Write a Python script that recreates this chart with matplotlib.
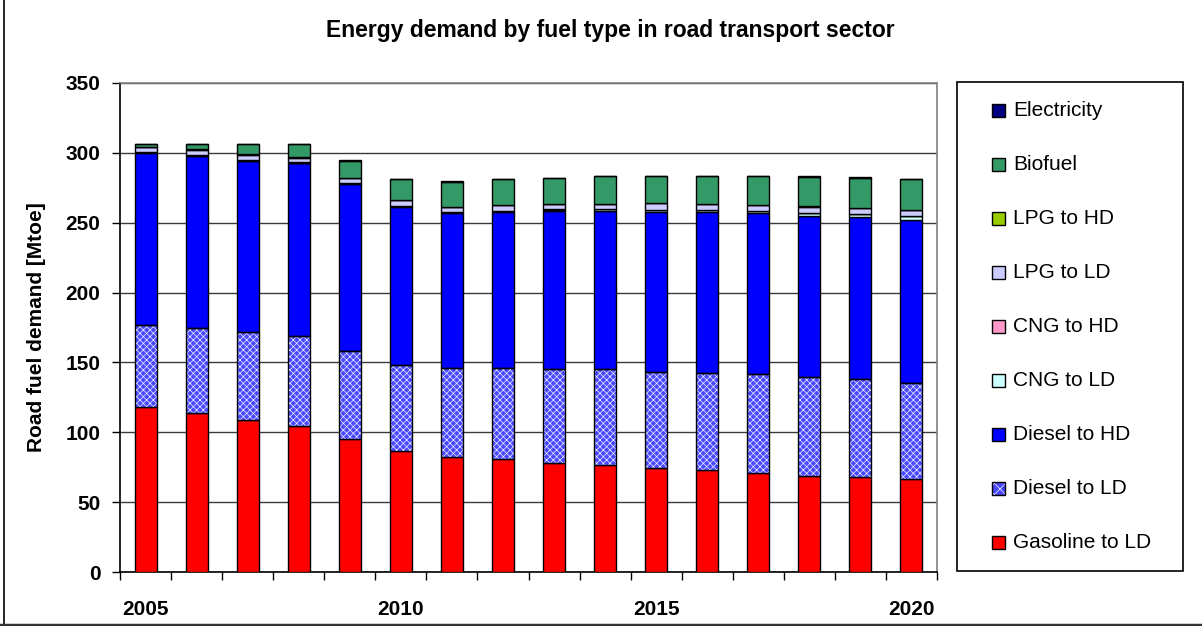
import matplotlib
matplotlib.use("Agg")
import matplotlib.pyplot as plt
from matplotlib.patches import Rectangle
from matplotlib.lines import Line2D
import numpy as np

plt.rcParams['font.family'] = ['Liberation Sans', 'DejaVu Sans']
plt.rcParams['hatch.linewidth'] = 0.5

years = list(range(2005, 2021))
xlabels = ['2005', '2010', '2015', '2020']

gasoline_ld = [118.3, 113.6, 108.8, 104.3, 95.0, 86.6, 82.5, 81.1, 78.3, 76.3, 74.7, 72.8, 70.6, 68.9, 68.2, 66.3]
diesel_ld = [58.7, 60.8, 62.8, 64.4, 63.2, 61.4, 63.8, 65.2, 67.0, 69.0, 68.7, 69.9, 71.1, 70.9, 69.7, 69.0]
diesel_hd = [123.2, 123.4, 122.9, 123.8, 119.5, 113.5, 110.7, 111.4, 113.3, 113.3, 114.3, 115.0, 115.0, 115.3, 116.0, 116.7]
cng_ld = [0.2, 0.2, 0.3, 0.3, 0.4, 0.5, 0.6, 0.7, 0.8, 0.9, 1.2, 1.4, 1.6, 1.9, 2.2, 2.5]
cng_hd = [0.3] * 16
lpg_ld = [3.2, 3.9, 3.5, 3.4, 3.3, 3.9, 3.4, 3.9, 3.6, 3.6, 4.6, 4.0, 4.1, 4.1, 4.1, 4.0]
lpg_hd = [0.3] * 16
biofuel = [2.1, 3.8, 7.4, 9.5, 12.4, 14.7, 17.7, 18.1, 18.4, 19.5, 19.1, 19.5, 20.2, 21.2, 21.4, 21.9]
electricity = [0.3] * 16

series = [
    ('Gasoline to LD', gasoline_ld, '#FF0000', None),
    ('Diesel to LD', diesel_ld, '#4848FF', 'xxxxx'),
    ('Diesel to HD', diesel_hd, '#0000FF', None),
    ('CNG to LD', cng_ld, '#CCFFFF', None),
    ('CNG to HD', cng_hd, '#FF99CC', None),
    ('LPG to LD', lpg_ld, '#CCCCFF', None),
    ('LPG to HD', lpg_hd, '#99CC00', None),
    ('Biofuel', biofuel, '#339966', None),
    ('Electricity', electricity, '#000080', None),
]

W, H = 1202, 626
fig = plt.figure(figsize=(W / 100, H / 100), dpi=100)
ax = fig.add_axes([120 / W, 1 - 572 / H, (937 - 120) / W, (572 - 83) / H])

x = np.arange(len(years))
bw = 0.43
bottom = np.zeros(len(years))
for name, vals, col, hatch in series:
    v = np.array(vals)
    if hatch:
        ax.bar(x, v, bw, bottom=bottom, color=col, hatch=hatch,
               edgecolor='#F0F0FF', linewidth=0, zorder=3)
        ax.bar(x, v, bw, bottom=bottom, fill=False, edgecolor='black',
               linewidth=1.0, zorder=4)
    else:
        ax.bar(x, v, bw, bottom=bottom, color=col, edgecolor='black',
               linewidth=1.0, zorder=3)
    bottom += v

ax.set_xlim(-0.5, len(years) - 0.5)
ax.set_ylim(0, 350)
ax.set_yticks(range(0, 351, 50))
ax.yaxis.grid(True, color='#3a3a3a', linewidth=1.0, zorder=0)
ax.set_axisbelow(True)

ax.set_xticks(np.arange(-0.5, len(years), 1.0))
ax.set_xticklabels([])
ax.set_xticks([years.index(int(l)) for l in xlabels], xlabels, minor=True)
ax.tick_params(axis='x', which='major', direction='out', length=6, width=1, color='black')
ax.tick_params(axis='x', which='minor', length=0, pad=20, labelsize=15)
for t in ax.get_xticklabels(minor=True):
    t.set_fontweight('bold')
ax.tick_params(axis='y', direction='out', length=6, width=1, pad=8, labelsize=15)
for t in ax.get_yticklabels():
    t.set_fontweight('bold')

ax.spines['left'].set_color('black')
ax.spines['bottom'].set_color('black')
ax.spines['top'].set_color('#808080')
ax.spines['right'].set_color('#808080')
for s in ax.spines.values():
    s.set_linewidth(1.2)

ax.set_ylabel('Road fuel demand [Mtoe]', fontsize=15, fontweight='bold', labelpad=14)

fig.text(610 / W, 1 - 31 / H, 'Energy demand by fuel type in road transport sector',
         ha='center', va='center', fontsize=16.5, fontweight='bold')

# legend box (manual)
lx0, ly0, lx1, ly1 = 957, 82, 1183, 571
fig.add_artist(Rectangle((lx0 / W, 1 - ly1 / H), (lx1 - lx0) / W, (ly1 - ly0) / H,
                         transform=fig.transFigure, facecolor='white',
                         edgecolor='black', linewidth=1.2))
ys = np.linspace(110, 542, 9)
for (name, vals, col, hatch), yy in zip(reversed(series), ys):
    s = 13
    if hatch:
        fig.add_artist(Rectangle((992 / W, 1 - (yy + s / 2) / H), s / W, s / H,
                                 transform=fig.transFigure, facecolor=col, hatch='xxx',
                                 edgecolor='#F0F0FF', linewidth=0))
        fig.add_artist(Rectangle((992 / W, 1 - (yy + s / 2) / H), s / W, s / H,
                                 transform=fig.transFigure, fill=False,
                                 edgecolor='black', linewidth=1.0))
    else:
        fig.add_artist(Rectangle((992 / W, 1 - (yy + s / 2) / H), s / W, s / H,
                                 transform=fig.transFigure, facecolor=col,
                                 edgecolor='black', linewidth=1.0))
    fig.text(1013 / W, 1 - yy / H, name, ha='left', va='center', fontsize=15)

# outer chart frame (left and bottom visible)
fig.add_artist(Line2D([3.5 / W, 3.5 / W], [0, 1], transform=fig.transFigure,
                      color='black', linewidth=1.2))
fig.add_artist(Line2D([0, 1], [1 - 624.5 / H, 1 - 624.5 / H], transform=fig.transFigure,
                      color='#333333', linewidth=2.5))

fig.savefig('out.png', dpi=100)
